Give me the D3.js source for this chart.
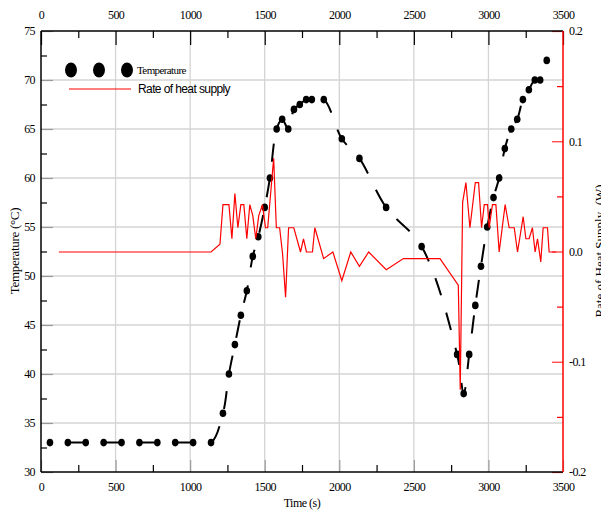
<!DOCTYPE html>
<html>
<head>
<meta charset="utf-8">
<script src="https://cdn.jsdelivr.net/npm/d3@7"></script>
<style>
  body { margin: 0; background: #fff; }
  text { font-family: "Liberation Serif", "Times New Roman", serif; }
</style>
</head>
<body>
<svg id="chart" width="601" height="512"></svg>
<script>
// temperature readings (s, °C)
const tempTime = [60, 180, 300, 420, 540, 660, 780, 900, 1020, 1140,
  1220, 1260, 1300, 1340, 1380, 1420, 1457, 1500, 1535, 1580, 1617, 1658,
  1696, 1735, 1778, 1816, 1896, 2017, 2135, 2314, 2552, 2790, 2834, 2871,
  2912, 2950, 2992, 3034, 3072, 3110, 3153, 3193, 3231, 3271, 3311, 3347, 3391];
const tempValue = [33, 33, 33, 33, 33, 33, 33, 33, 33, 33,
  36, 40, 43, 46, 48.5, 52, 54, 57, 60, 65, 66, 65,
  67, 67.5, 68, 68, 68, 64, 62, 57, 53, 42, 38, 42,
  47, 51, 55, 58, 60, 63, 65, 66, 68, 69, 70, 70, 72];

// rate of heat supply (s, W)
const rateTime = [120, 1140, 1200, 1220, 1260, 1280, 1300, 1320, 1340, 1360,
  1380, 1400, 1420, 1440, 1460, 1485, 1505, 1520, 1560, 1578, 1600, 1620,
  1640, 1660, 1695, 1740, 1760, 1780, 1820, 1836, 1895, 1957, 2017, 2077,
  2135, 2197, 2315, 2430, 2675, 2798, 2811, 2827, 2849, 2876, 2912, 2934,
  2954, 2972, 2994, 3005, 3027, 3050, 3072, 3112, 3139, 3173, 3195, 3233,
  3251, 3273, 3295, 3313, 3329, 3351, 3367, 3396, 3407, 3455];
const rateValue = [0, 0, 0.007, 0.043, 0.043, 0.012, 0.053, 0.022, 0.043, 0.043,
  0.012, 0.043, 0.033, 0.012, 0.033, 0.043, 0.022, 0.022, 0.085, 0.022, 0.022, -0.002,
  -0.041, 0.022, 0.022, 0, 0.012, 0, 0, 0.022, -0.006, 0, -0.026, 0,
  -0.013, 0, -0.016, -0.006, -0.006, -0.030, -0.125, 0.045, 0.063, 0.022, 0.063, 0.063,
  0.022, 0.043, 0.043, 0.022, 0.043, 0.043, 0, 0.043, 0.022, 0.022, 0, 0.032,
  0.012, 0.012, 0.022, 0, 0.012, -0.009, 0.022, 0.022, 0, 0];

const xTicks = [0, 500, 1000, 1500, 2000, 2500, 3000, 3500];
const xMinor = [250, 750, 1250, 1750, 2250, 2750, 3250];
const tTicks = [30, 35, 40, 45, 50, 55, 60, 65, 70, 75];
const tMinor = [32.5, 37.5, 42.5, 47.5, 52.5, 57.5, 62.5, 67.5, 72.5];
const rTicks = [-0.2, -0.1, 0, 0.1, 0.2];
const rMinor = [-0.15, -0.05, 0.05, 0.15];

const L = 41, R = 563, T = 31, B = 472;

const svg = d3.select("#chart");
const x = d3.scaleLinear().domain([0, 3500]).range([L, R]);
const yT = d3.scaleLinear().domain([30, 75]).range([B, T]);
const yR = d3.scaleLinear().domain([-0.2, 0.2]).range([B, T]);

// grid
const grid = svg.append("g").attr("stroke", "#d4d4d4").attr("stroke-width", 1.3);
grid.selectAll(".gx").data(xTicks.slice(1, -1)).enter().append("line")
  .attr("x1", d => x(d)).attr("x2", d => x(d)).attr("y1", T).attr("y2", B);
grid.selectAll(".gy").data(tTicks.slice(1, -1)).enter().append("line")
  .attr("y1", d => yT(d)).attr("y2", d => yT(d)).attr("x1", L).attr("x2", R);

function styleAxis(g, color) {
  g.select(".domain").remove();
  g.selectAll(".tick line").attr("stroke", color).attr("stroke-width", 1.2);
  g.selectAll(".tick text").attr("fill", "#000")
    .style("font-family", "Liberation Serif").style("font-size", "12px")
    .style("letter-spacing", "-0.6px");
}

// bottom axis
const gb = svg.append("g").attr("transform", `translate(0,${B})`)
  .call(d3.axisBottom(x).tickValues(xTicks).tickSize(-12).tickPadding(10).tickFormat(d3.format("d")));
styleAxis(gb, "#9a9a9a");
const gbm = svg.append("g").attr("transform", `translate(0,${B})`)
  .call(d3.axisBottom(x).tickValues(xMinor).tickSize(-7).tickFormat(""));
styleAxis(gbm, "#000");

// top axis
const gt = svg.append("g").attr("transform", `translate(0,${T})`)
  .call(d3.axisTop(x).tickValues(xTicks).tickSize(-14).tickPadding(12).tickFormat(d3.format("d")));
styleAxis(gt, "#000");
const gtm = svg.append("g").attr("transform", `translate(0,${T})`)
  .call(d3.axisTop(x).tickValues(xMinor).tickSize(-7).tickFormat(""));
styleAxis(gtm, "#000");

// left axis
const gl = svg.append("g").attr("transform", `translate(${L},0)`)
  .call(d3.axisLeft(yT).tickValues(tTicks).tickSize(-12).tickPadding(6).tickFormat(d3.format("d")));
styleAxis(gl, "#9a9a9a");
const glm = svg.append("g").attr("transform", `translate(${L},0)`)
  .call(d3.axisLeft(yT).tickValues(tMinor).tickSize(-6).tickFormat(""));
styleAxis(glm, "#000");

// right axis
const gr = svg.append("g").attr("transform", `translate(${R},0)`)
  .call(d3.axisRight(yR).tickValues(rTicks).tickSize(-11).tickPadding(6).tickFormat(d => d.toFixed(1)));
styleAxis(gr, "#ff3030");
const grm = svg.append("g").attr("transform", `translate(${R},0)`)
  .call(d3.axisRight(yR).tickValues(rMinor).tickSize(-6).tickFormat(""));
styleAxis(grm, "#ff0000");

// frame
svg.append("line").attr("x1", L).attr("x2", R).attr("y1", T).attr("y2", T).attr("stroke", "#000").attr("stroke-width", 1.5);
svg.append("line").attr("x1", L).attr("x2", R).attr("y1", B).attr("y2", B).attr("stroke", "#000").attr("stroke-width", 1.5);
svg.append("line").attr("x1", L).attr("x2", L).attr("y1", T).attr("y2", B).attr("stroke", "#000").attr("stroke-width", 1.5);
svg.append("line").attr("x1", R).attr("x2", R).attr("y1", T).attr("y2", B).attr("stroke", "#ff0000").attr("stroke-width", 1.5);

// temperature
const tempData = tempTime.map((t, i) => ({ t, v: tempValue[i] }));
svg.append("path").datum(tempData)
  .attr("fill", "none").attr("stroke", "#000").attr("stroke-width", 2)
  .attr("stroke-dasharray", "18,18").attr("stroke-dashoffset", 18)
  .attr("d", d3.line().curve(d3.curveCatmullRom.alpha(0.5)).x(d => x(d.t)).y(d => yT(d.v)));
svg.append("g").selectAll("ellipse").data(tempData).enter().append("ellipse")
  .attr("cx", d => x(d.t)).attr("cy", d => yT(d.v))
  .attr("rx", 3.3).attr("ry", 3.8).attr("fill", "#000");

// rate of heat supply (drawn on top)
const rateData = rateTime.map((t, i) => ({ t, v: rateValue[i] }));
svg.append("path").datum(rateData)
  .attr("transform", "translate(0,0.5)")
  .attr("fill", "none").attr("stroke", "#ff0000").attr("stroke-width", 1.2)
  .attr("d", d3.line().x(d => x(d.t)).y(d => yR(d.v)));

// legend
const lg = svg.append("g");
lg.selectAll("ellipse").data([71, 99, 127]).enter().append("ellipse")
  .attr("cx", d => d).attr("cy", 70).attr("rx", 6).attr("ry", 7.5).attr("fill", "#000");
lg.append("text").attr("x", 137).attr("y", 74).text("Temperature")
  .style("font-size", "11px").style("letter-spacing", "-0.6px");
lg.append("line").attr("x1", 69).attr("x2", 131).attr("y1", 89).attr("y2", 89)
  .attr("stroke", "#ff0000").attr("stroke-width", 1.2);
lg.append("text").attr("x", 138).attr("y", 93).text("Rate of heat supply")
  .style("font-family", "Liberation Sans").style("font-size", "12px").style("letter-spacing", "-0.6px");

// axis titles
svg.append("text").attr("x", 302).attr("y", 507).attr("text-anchor", "middle")
  .style("font-size", "12px").style("letter-spacing", "-0.5px").text("Time (s)");
svg.append("text").attr("transform", "translate(19,251) rotate(-90)").attr("text-anchor", "middle")
  .style("font-size", "13px").style("letter-spacing", "-0.3px").text("Temperature (°C)");
svg.append("text").attr("transform", "translate(604,251) rotate(-90)").attr("text-anchor", "middle")
  .style("font-size", "13px").style("white-space", "pre").text("Rate of Heat Supply  (W)");
</script>
</body>
</html>
